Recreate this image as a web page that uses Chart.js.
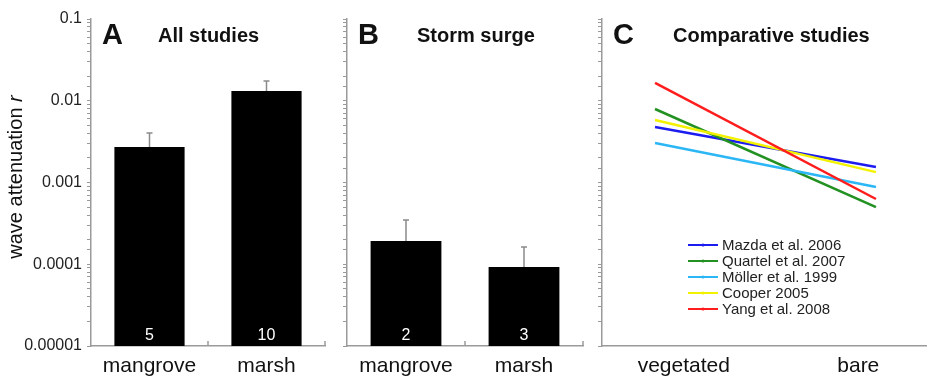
<!DOCTYPE html>
<html>
<head>
<meta charset="utf-8">
<script src="https://cdn.jsdelivr.net/npm/chart.js@4"></script>
<style>
body{margin:0;background:#fff;width:927px;height:378px;overflow:hidden;position:relative}
canvas{position:absolute;top:0}
</style>
</head>
<body>
<canvas id="chartA" width="330" height="378" style="left:0;width:330px;height:378px"></canvas>
<canvas id="chartB" width="262" height="378" style="left:330px;width:262px;height:378px"></canvas>
<canvas id="chartC" width="335" height="378" style="left:592px;width:335px;height:378px"></canvas>
<script>
/* data */
const habitats = ["mangrove", "marsh"];
const allStudies = [0.00272, 0.0132];
const allStudiesErr = [0.00403, 0.0175];
const allStudiesN = [5, 10];
const surge = [0.000192, 0.0000925];
const surgeErr = [0.000348, 0.000163];
const surgeN = [2, 3];
const yTickLabels = ["0.00001", "0.0001", "0.001", "0.01", "0.1"];

const sites = ["vegetated", "bare"];
const studies = ["Mazda et al. 2006", "Quartel et al. 2007", "Möller et al. 1999", "Cooper 2005", "Yang et al. 2008"];
const mazda = [0.00478, 0.00155];
const quartel = [0.00793, 0.000501];
const moller = [0.00304, 0.000881];
const cooper = [0.00582, 0.00134];
const yang = [0.0165, 0.000628];
const studyColors = ["#1c1cf0", "#229122", "#2bb6f5", "#f2f200", "#ff1c1c"];

const FONT = '"Liberation Sans", Arial, sans-serif';
Chart.defaults.font.family = FONT;
Chart.defaults.color = "#222";
Chart.defaults.animation = false;

const AXIS = "#9a9a9a";

/* log y axis shared by the three panels */
function logAxis(width, showLabels) {
return {
type: "logarithmic",
min: 1e-5,
max: 0.1,
border: {color: AXIS, width: 1.5},
grid: {drawOnChartArea: false, tickLength: 4, color: AXIS},
ticks: {
display: showLabels,
autoSkip: false,
padding: 5,
color: "#222",
font: {size: 16},
callback: v => {
const e = Math.log10(v);
const r = Math.round(e);
if (Math.abs(e - r) > 1e-6) return "";
return yTickLabels[r + 5];
}
},
afterFit: s => { s.width = width; }
};
}

function catAxis() {
return {
border: {color: AXIS, width: 1.5},
grid: {display: true, drawOnChartArea: false, drawTicks: false, color: "rgba(0,0,0,0)"},
ticks: {padding: 8, color: "#111", font: {size: 21}},
afterFit: s => { s.height = 32; }
};
}

/* panel letter + title */
const panelTitle = {
id: "panelTitle",
afterDraw(chart, args, o) {
const ctx = chart.ctx, ca = chart.chartArea;
ctx.save();
ctx.fillStyle = "#111";
ctx.textBaseline = "alphabetic";
ctx.textAlign = "left";
ctx.font = "bold 29px " + FONT;
ctx.fillText(o.letter, ca.left + 11, 44);
ctx.font = "bold 20px " + FONT;
ctx.fillText(o.text, ca.left + o.textX, 42);
ctx.restore();
}
};

/* error bars, n labels, small category ticks */
const barExtras = {
id: "barExtras",
afterDatasetsDraw(chart, args, o) {
const ctx = chart.ctx, ca = chart.chartArea;
const y = chart.scales.y;
const meta = chart.getDatasetMeta(0);
ctx.save();
meta.data.forEach((bar, i) => {
const yTop = y.getPixelForValue(o.err[i]);
ctx.strokeStyle = "#8a8a8a";
ctx.lineWidth = 1.5;
ctx.beginPath();
ctx.moveTo(bar.x, bar.y);
ctx.lineTo(bar.x, yTop);
ctx.moveTo(bar.x - 3, yTop);
ctx.lineTo(bar.x + 3, yTop);
ctx.stroke();
ctx.fillStyle = "#fff";
ctx.font = "16px " + FONT;
ctx.textAlign = "center";
ctx.textBaseline = "middle";
ctx.fillText(String(o.n[i]), bar.x, ca.bottom - 10);
});
const n = meta.data.length;
ctx.strokeStyle = AXIS;
ctx.lineWidth = 1.5;
for (let i = 1; i <= n; i++) {
const x = ca.left + (ca.right - ca.left) * i / n;
ctx.beginPath();
ctx.moveTo(x, ca.bottom);
ctx.lineTo(x, ca.bottom - 5);
ctx.stroke();
}
ctx.restore();
}
};

/* y title for panel A */
const yTitle = {
id: "yTitle",
afterDraw(chart) {
const ctx = chart.ctx;
ctx.save();
ctx.translate(16, 177);
ctx.rotate(-Math.PI / 2);
ctx.fillStyle = "#111";
ctx.textBaseline = "middle";
ctx.textAlign = "left";
const a = "wave attenuation ";
ctx.font = "20px " + FONT;
const wa = ctx.measureText(a).width;
ctx.font = "italic 20px " + FONT;
const wr = ctx.measureText("r").width;
const x0 = -(wa + wr) / 2;
ctx.font = "20px " + FONT;
ctx.fillText(a, x0, 0);
ctx.font = "italic 20px " + FONT;
ctx.fillText("r", x0 + wa, 0);
ctx.restore();
}
};

/* legend inside panel C */
const innerLegend = {
id: "innerLegend",
afterDraw(chart) {
const ctx = chart.ctx, ca = chart.chartArea;
ctx.save();
chart.data.datasets.forEach((ds, i) => {
const yy = ca.top + 226 + i * 16;
const x1 = ca.left + 86, x2 = ca.left + 116;
ctx.strokeStyle = ds.borderColor;
ctx.lineWidth = 2;
ctx.beginPath();
ctx.moveTo(x1, yy);
ctx.lineTo(x2, yy);
ctx.stroke();
ctx.fillStyle = ds.borderColor;
ctx.beginPath();
ctx.arc((x1 + x2) / 2, yy, 1.6, 0, Math.PI * 2);
ctx.fill();
ctx.fillStyle = "#222";
ctx.font = "15px " + FONT;
ctx.textBaseline = "middle";
ctx.fillText(ds.label, x2 + 4, yy + 1);
});
ctx.restore();
}
};

function barChart(id, values, err, n, yWidth, padRight, title, extra) {
return new Chart(document.getElementById(id), {
type: "bar",
data: {
labels: habitats,
datasets: [{
data: values,
backgroundColor: "#000",
borderWidth: 0,
categoryPercentage: 1,
barPercentage: 0.6
}]
},
options: {
responsive: false,
layout: {padding: {top: 19, right: padRight, left: 0, bottom: 0}},
plugins: {
legend: {display: false},
tooltip: {enabled: false},
barExtras: {err: err, n: n},
panelTitle: title
},
scales: {
x: catAxis(),
y: logAxis(yWidth, id === "chartA")
}
},
plugins: [barExtras, panelTitle].concat(extra)
});
}

barChart("chartA", allStudies, allStudiesErr, allStudiesN, 91, 5,
{letter: "A", text: "All studies", textX: 67}, [yTitle]);
barChart("chartB", surge, surgeErr, surgeN, 17, 9,
{letter: "B", text: "Storm surge", textX: 70}, []);

const lineSets = [mazda, quartel, moller, cooper, yang];
new Chart(document.getElementById("chartC"), {
type: "line",
data: {
datasets: lineSets.map((vals, i) => ({
label: studies[i],
data: vals.map((v, j) => ({x: j, y: v})),
borderColor: studyColors[i],
backgroundColor: studyColors[i],
borderWidth: 2.5,
pointRadius: 0,
order: i === 4 ? 0 : 5 - i
}))
},
options: {
responsive: false,
layout: {padding: {top: 19, right: 0, left: 0, bottom: 0}},
plugins: {
legend: {display: false},
tooltip: {enabled: false},
panelTitle: {letter: "C", text: "Comparative studies", textX: 71}
},
scales: {
x: {
type: "linear",
min: -0.24,
max: 1.231,
afterBuildTicks: s => { s.ticks = [{value: 0.13}, {value: 0.92}]; },
border: {color: AXIS, width: 1.5},
grid: {drawOnChartArea: false, drawTicks: false},
ticks: {padding: 8, color: "#111", font: {size: 21}, callback: (v, i) => sites[i]},
afterFit: s => { s.height = 32; }
},
y: logAxis(10, false)
}
},
plugins: [panelTitle, innerLegend]
});
</script>
</body>
</html>
